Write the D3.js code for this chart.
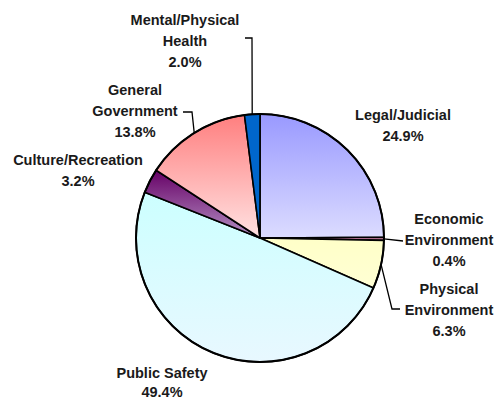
<!DOCTYPE html>
<html>
<head>
<meta charset="utf-8">
<script src="https://cdn.jsdelivr.net/npm/d3@7"></script>
<style>
  html, body { margin: 0; padding: 0; background: #fff; }
  svg { display: block; }
  text { font-family: "Liberation Sans", Arial, sans-serif; font-weight: bold; font-size: 14.5px; fill: #1a1a1a; }
</style>
</head>
<body>
<svg id="chart" width="495" height="401"></svg>
<script>
// Expenditure shares, clockwise from 12 o'clock
const categories = ["Legal/Judicial", "Economic Environment", "Physical Environment",
                    "Public Safety", "Culture/Recreation", "General Government",
                    "Mental/Physical Health"];
const shares = [24.9, 0.4, 6.3, 49.4, 3.2, 13.8, 2.0];
const labelLines = [["Legal/Judicial"], ["Economic", "Environment"], ["Physical", "Environment"],
                    ["Public Safety"], ["Culture/Recreation"], ["General", "Government"],
                    ["Mental/Physical", "Health"]];

// Fill gradients (top colour, bottom colour) per slice
const fills = [
  ["#9999ff", "#dcdcff"],
  ["#e58fb8", "#e58fb8"],
  ["#ffffc8", "#ffffd4"],
  ["#ccffff", "#e8f8ff"],
  ["#660066", "#b591c4"],
  ["#ff7f7f", "#ffe2e2"],
  ["#0066cc", "#0066cc"]
];

// Label block placement (centre x, first baseline y, line gap) and leader routes
const labelLayout = [
  { x: 403, y: 120, gap: 21, leader: null },
  { x: 449, y: 224, gap: 21, leader: [[403, 241]] },
  { x: 449, y: 294, gap: 21, leader: [[392, 309], [400, 309]] },
  { x: 162, y: 378, gap: 19, leader: null },
  { x: 78,  y: 165, gap: 21, leader: null },
  { x: 135, y: 95,  gap: 21, leader: [[192, 112], [183, 112]] },
  { x: 185, y: 25,  gap: 21, leader: [[252, 38], [245, 38]] }
];

const width = 495, height = 401;
const cx = 260, cy = 238, radius = 124;

const svg = d3.select("#chart");
const defs = svg.append("defs");

fills.forEach((f, i) => {
  const g = defs.append("linearGradient")
    .attr("id", "grad" + i)
    .attr("x1", 0).attr("y1", 0).attr("x2", 0).attr("y2", 1);
  g.append("stop").attr("offset", "0%").attr("stop-color", f[0]);
  g.append("stop").attr("offset", "100%").attr("stop-color", f[1]);
});

const data = categories.map((c, i) => ({ name: c, value: shares[i], idx: i }));

const pie = d3.pie().sort(null).value(d => d.value).startAngle(0).endAngle(2 * Math.PI);
const arc = d3.arc().innerRadius(0).outerRadius(radius);
const arcs = pie(data);

const g = svg.append("g").attr("transform", `translate(${cx},${cy})`);

g.selectAll("path.slice")
  .data(arcs)
  .enter().append("path")
  .attr("class", "slice")
  .attr("d", arc)
  .attr("fill", d => `url(#grad${d.data.idx})`)
  .attr("stroke", "#000")
  .attr("stroke-width", 1.6)
  .attr("stroke-linejoin", "round");

// Outer rim
g.append("circle").attr("r", radius).attr("fill", "none").attr("stroke", "#000").attr("stroke-width", 2);

// Leader lines from the slice edge to labels
arcs.forEach(a => {
  const lay = labelLayout[a.data.idx];
  if (!lay.leader) return;
  const mid = (a.startAngle + a.endAngle) / 2;
  const start = [cx + radius * Math.sin(mid), cy - radius * Math.cos(mid)];
  const pts = [start].concat(lay.leader);
  svg.append("path")
    .attr("d", d3.line()(pts))
    .attr("fill", "none")
    .attr("stroke", "#000")
    .attr("stroke-width", 1.3);
});

// Labels: name lines then percentage
arcs.forEach(a => {
  const i = a.data.idx;
  const lay = labelLayout[i];
  const lines = labelLines[i].concat([d3.format(".1f")(a.data.value) + "%"]);
  const t = svg.append("text").attr("text-anchor", "middle");
  lines.forEach((ln, k) => {
    t.append("tspan").attr("x", lay.x).attr("y", lay.y + k * lay.gap).text(ln);
  });
});
</script>
</body>
</html>
